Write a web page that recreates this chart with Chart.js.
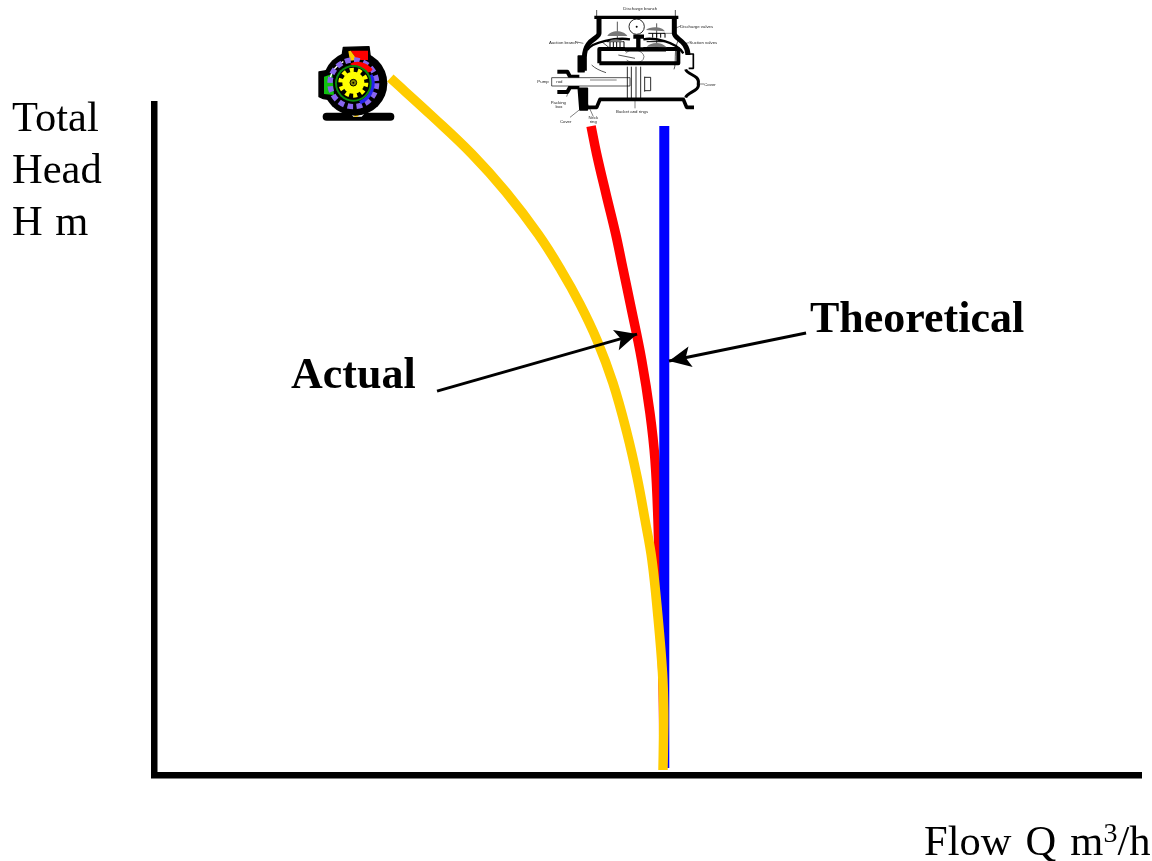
<!DOCTYPE html>
<html>
<head>
<meta charset="utf-8">
<title>Pump curves</title>
<script src="https://cdn.jsdelivr.net/npm/chart.js@4/dist/chart.umd.min.js"></script>
<style>
  html, body { margin: 0; padding: 0; background: #fff; overflow: hidden; }
  #wrap { position: relative; width: 1152px; height: 861px; }
  #wrap canvas { position: absolute; left: 0; top: 0; }
  .label { position: absolute; font-family: "Liberation Serif", serif; font-size: 42.5px; line-height: 1; color: #000; white-space: nowrap; }
  .label.bold { font-weight: bold; font-size: 44px; }
  .label sup { font-size: 28px; line-height: 0; vertical-align: 13px; }
  svg.icon { position: absolute; }
  svg.icon text { font-family: "Liberation Sans", sans-serif; font-size: 13px; fill: #222; text-anchor: middle; }
</style>
</head>
<body>
<div id="wrap">
  <canvas id="pumpChart" width="1152" height="861"></canvas>

  <div class="label" style="left:12px;top:96px">Total</div>
  <div class="label" style="left:12px;top:148px">Head</div>
  <div class="label" style="left:12px;top:200px;word-spacing:2px">H m</div>
  <div class="label" style="left:924px;top:820px;word-spacing:3.5px">Flow Q m<sup>3</sup>/h</div>
  <div class="label bold" style="left:291px;top:352px">Actual</div>
  <div class="label bold" style="left:810px;top:296px">Theoretical</div>

  <!-- rotary pump icon -->
  <svg class="icon" style="left:300px;top:0" width="120" height="130" viewBox="0 0 360 390">
    <rect x="68" y="338" width="215" height="24" rx="12" fill="#000"/>
    <polygon points="148,336 198,336 185,350 160,350" fill="#fff"/>
    <polygon points="160,350 180,330 192,330 172,350" fill="#ffcc00"/>
    <circle cx="165" cy="250" r="97" fill="#000"/>
    <polygon points="122,195 130,142 207,140 214,195" fill="#000" stroke="#000" stroke-width="4" stroke-linejoin="round"/>
    <polygon points="152,152 204,152 204,180 172,180" fill="#f00"/>
    <polygon points="145,154 152,152 172,180 150,182" fill="#ffcc00"/>
    <polygon points="57,216 100,208 130,205 130,318 100,300 70,296 57,290" fill="#000" stroke="#000" stroke-width="4" stroke-linejoin="round"/>
    <polygon points="72,230 97,222 102,285 72,282" fill="#11c011"/>
    <path d="M 90 235 A 78 78 0 0 1 130 185" fill="none" stroke="#fff" stroke-width="4"/>
    <circle cx="160" cy="250" r="70" fill="none" stroke="#8866ee" stroke-width="16" stroke-dasharray="17 10.5"/>
    <path d="M 150 192 C 170 178 200 186 218 208 C 205 228 192 212 182 205 C 170 200 160 200 150 192 Z" fill="#f00"/>
    <path d="M 212 225 C 226 250 218 290 180 308" fill="none" stroke="#2222ee" stroke-width="11"/>
    <circle cx="160" cy="250" r="55" fill="#0a8a0a"/>
    <circle cx="160" cy="250" r="49" fill="#000"/>
    <circle cx="160" cy="248" r="38" fill="none" stroke="#ffff00" stroke-width="14" stroke-dasharray="12 11.9"/>
    <circle cx="160" cy="248" r="33" fill="#ffff00"/>
    <circle cx="160" cy="248" r="10" fill="#8a8a00" stroke="#000" stroke-width="3"/>
    <circle cx="160" cy="248" r="3" fill="#000"/>
  </svg>

  <!-- reciprocating pump cross section -->
  <svg class="icon" style="left:530px;top:0" width="200" height="135" viewBox="0 0 600 405">
    <g fill="none" stroke="#000" stroke-linejoin="round">
      <path d="M 193 52 H 445" stroke-width="10"/>
      <path d="M 200 30 V 50 M 436 30 V 50" stroke-width="2"/>
      <path d="M 207 55 V 100 C 207 118 165 115 163 172 V 212" stroke-width="15"/>
      <path d="M 433 55 V 100 C 433 118 472 120 474 165" stroke-width="15"/>
      <path d="M 145 168 H 162 V 215 H 145 Z" fill="#000" stroke-width="5"/>
      <path d="M 476 162 H 490 V 205 H 476" stroke-width="5"/>
      <path d="M 467 208 C 472 225 510 225 505 250 C 510 275 472 275 467 293" stroke-width="9"/>
      <path d="M 145 265 H 172 V 330 H 150 Z" fill="#000" stroke-width="5"/>
      <path d="M 160 322 H 200 L 210 298 H 460 L 470 322 H 492" stroke-width="11"/>
      <path d="M 172 150 C 185 125 260 112 300 118 M 340 118 C 370 112 440 125 460 160" stroke-width="7"/>
      <path d="M 208 190 V 147 H 285 M 340 147 H 445 V 190 H 208" stroke-width="12"/>
      <path d="M 285 148 H 408 M 325 112 V 148 M 310 110 H 342" stroke-width="13"/>
      <path d="M 82 215 H 112 L 120 230 H 148 M 82 276 H 112 L 120 262 H 148" stroke-width="12"/>
      <rect x="65" y="233" width="235" height="25" fill="#fff" stroke-width="2"/>
      <path d="M 292 200 V 296 M 304 200 V 296 M 318 200 V 296 M 332 200 V 296 M 344 230 V 275" stroke-width="2.5"/>
      <path d="M 344 232 H 362 V 272 H 344" stroke-width="2.5"/>
      <circle cx="320" cy="80" r="23" fill="#fff" stroke-width="2.5"/>
      <path d="M 288 160 C 300 140 340 150 342 170 C 340 195 300 190 290 180" stroke-width="1.5"/>
      <path d="M 230 125 H 282 V 150 M 240 125 V 150 M 250 125 V 150 M 260 125 V 150 M 270 125 V 150" stroke-width="3"/>
      <path d="M 350 125 H 405 M 355 100 H 405 V 113 M 368 100 V 113 M 380 100 V 113 M 392 100 V 113" stroke-width="3"/>
      <path d="M 262 65 V 120 M 380 70 V 145 M 185 195 C 195 205 210 212 228 218 M 445 120 C 430 150 440 190 432 208" stroke-width="2"/>
      <path d="M 180 240 H 260 M 135 125 L 160 130 M 400 100 H 430 M 452 78 L 435 85 M 478 128 L 455 132 M 500 252 H 522 M 120 352 L 150 328 M 190 350 L 172 310 M 110 290 L 118 265 M 315 325 V 296" stroke-width="1.5"/>
      <path d="M 215 125 L 240 145 M 265 165 L 315 175" stroke-width="2"/>
    </g>
    <path d="M 232 108 C 240 90 280 88 292 108 Z M 348 90 C 360 78 395 78 405 94 Z M 350 140 C 365 125 395 125 410 142 Z M 235 125 C 245 115 270 115 282 126 Z" fill="#777"/>
    <circle cx="320" cy="80" r="3" fill="#000"/>
    <text x="331" y="31">Discharge branch</text>
    <text x="500" y="84">Discharge valves</text>
    <text x="520" y="133">Suction valves</text>
    <text x="100" y="131">Auction branch</text>
    <text x="39" y="249">Pump</text>
    <text x="88" y="249">rod</text>
    <text x="85" y="312">Packing</text>
    <text x="87" y="325">box</text>
    <text x="107" y="369">Cover</text>
    <text x="190" y="357">Neck</text>
    <text x="190" y="369">ring</text>
    <text x="306" y="339">Bucket and rings</text>
    <text x="540" y="258">Cover</text>
  </svg>
</div>

<script>
// pump curves, flow and head in % of the axis
const actualFlow = [23.89, 28.01, 32.16, 35.61, 38.85, 41.18, 43.10, 44.82, 46.44, 47.86, 48.88, 49.69, 50.39, 51.00, 51.46, 51.58, 51.56, 51.51];
const actualHead = [103.34, 97.85, 92.07, 86.43, 80.21, 74.87, 69.83, 64.49, 58.12, 50.70, 44.18, 37.81, 31.88, 23.42, 15.12, 9.64, 5.19, 0.74];
const realFlow = [44.22, 44.79, 45.74, 46.72, 47.46, 48.20, 49.35, 50.19, 50.70, 51.00, 51.21, 51.51, 51.61];
const realHead = [96.22, 92.07, 86.14, 80.21, 75.02, 69.83, 61.53, 53.67, 46.70, 37.81, 25.95, 14.08, 1.04];
const theoryFlow = [51.64, 51.64];
const theoryHead = [96.22, 1.04];
// callout arrows, tail then tip
const actualArrowFlow = [28.62, 48.88];
const actualArrowHead = [56.93, 65.38];
const theoryArrowFlow = [66.0, 52.12];
const theoryArrowHead = [65.53, 61.38];

function toPoints(xs, ys) {
  return xs.map((x, i) => ({ x: x, y: ys[i] }));
}

// arrow heads on the callouts
const arrowHeads = {
  id: "arrowHeads",
  afterDraw(chart) {
    const ctx = chart.ctx;
    const xs = chart.scales.x;
    const ys = chart.scales.y;
    ctx.fillStyle = "#000";
    chart.data.datasets.forEach((ds) => {
      if (!ds.isArrow) return;
      const a = ds.data[0];
      const b = ds.data[1];
      const tipX = xs.getPixelForValue(b.x);
      const tipY = ys.getPixelForValue(b.y);
      const ang = Math.atan2(tipY - ys.getPixelForValue(a.y), tipX - xs.getPixelForValue(a.x));
      ctx.save();
      ctx.translate(tipX, tipY);
      ctx.rotate(ang);
      ctx.beginPath();
      ctx.moveTo(0, 0);
      ctx.lineTo(-22, 10.5);
      ctx.lineTo(-17, 0);
      ctx.lineTo(-22, -10.5);
      ctx.closePath();
      ctx.fill();
      ctx.restore();
    });
  },
};

new Chart(document.getElementById("pumpChart"), {
  type: "scatter",
  data: {
    // first dataset is painted last
    datasets: [
      { label: "Actual arrow", data: toPoints(actualArrowFlow, actualArrowHead), isArrow: true, borderColor: "#000", borderWidth: 3 },
      { label: "Theoretical arrow", data: toPoints(theoryArrowFlow, theoryArrowHead), isArrow: true, borderColor: "#000", borderWidth: 3 },
      { label: "Actual rotary", data: toPoints(actualFlow, actualHead), borderColor: "#ffcc00", borderWidth: 9.5, tension: 0.4 },
      { label: "Theoretical", data: toPoints(theoryFlow, theoryHead), borderColor: "#0000ff", borderWidth: 10 },
      { label: "Actual reciprocating", data: toPoints(realFlow, realHead), borderColor: "#ff0000", borderWidth: 9.5, tension: 0.4 },
    ],
  },
  options: {
    responsive: false,
    animation: false,
    showLine: true,
    clip: false,
    layout: { padding: { left: 154.5, right: 10.3, top: 104, bottom: 86 } },
    elements: { point: { radius: 0 } },
    plugins: { legend: { display: false }, tooltip: { enabled: false } },
    scales: {
      x: {
        min: 0,
        max: 100,
        ticks: { display: false },
        grid: { display: false, drawTicks: false },
        border: { display: true, color: "#000", width: 6.5 },
      },
      y: {
        min: 0,
        max: 99.5,
        ticks: { display: false },
        grid: { display: false, drawTicks: false },
        border: { display: true, color: "#000", width: 6.5 },
      },
    },
  },
  plugins: [arrowHeads],
});
</script>
</body>
</html>
